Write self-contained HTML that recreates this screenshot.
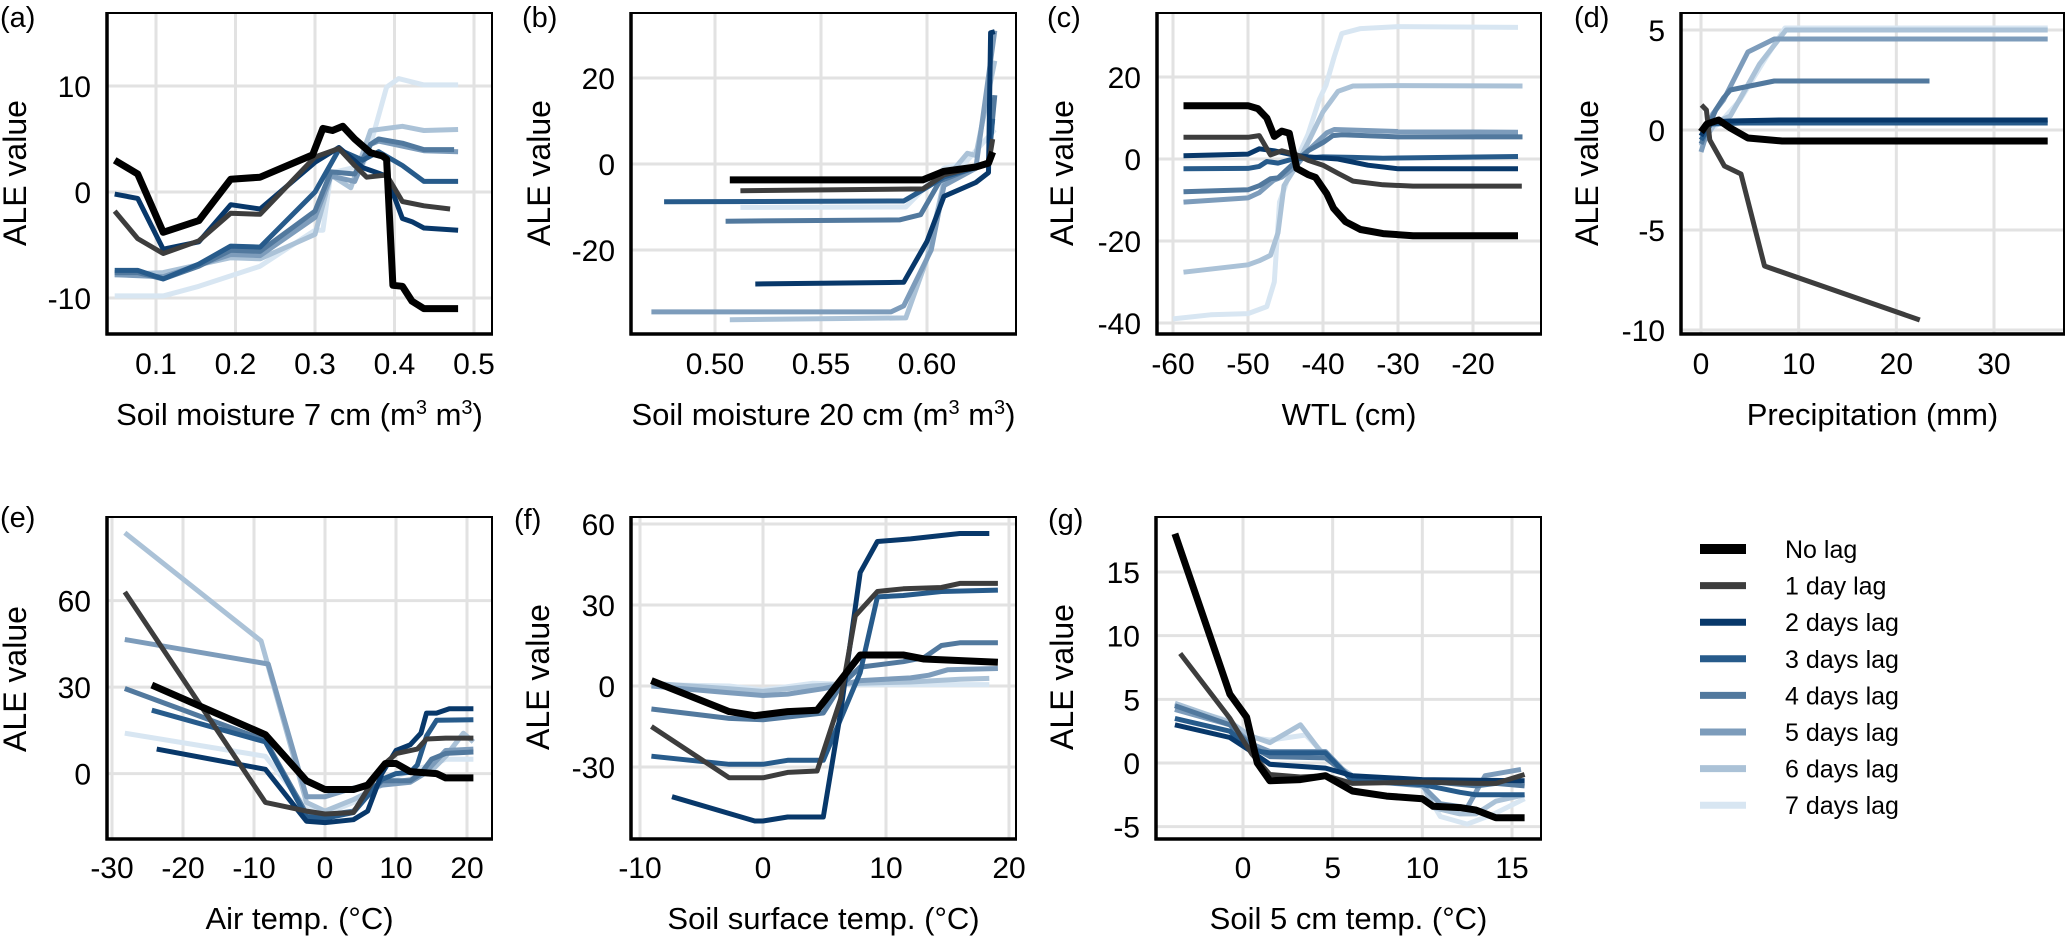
<!DOCTYPE html>
<html><head><meta charset="utf-8"><style>
html,body{margin:0;padding:0;background:#fff;}
svg{display:block;font-family:"Liberation Sans",Arial,sans-serif;}
</style></head><body>
<svg id="chart" width="2067" height="936" viewBox="0 0 2067 936" xmlns="http://www.w3.org/2000/svg"></svg>
<script>
const lagNames = ["No lag","1 day lag","2 days lag","3 days lag","4 days lag","5 days lag","6 days lag","7 days lag"];
const lagColors = ["#000000","#3d3d3d","#08386a","#275b8b","#52799e","#7d9cbb","#abc2d7","#d8e6f2"];

const seriesA = [
 [[0.048,3.0],[0.077,1.7],[0.109,-3.8],[0.154,-2.7],[0.194,1.2],[0.231,1.4],[0.297,3.5],[0.31,6],[0.322,5.8],[0.335,6.2],[0.35,5.0],[0.37,3.7],[0.385,3.4],[0.39,3.1],[0.398,-8.8],[0.41,-8.9],[0.422,-10.3],[0.437,-11.0],[0.48,-11.0]],
 [[0.048,-1.8],[0.077,-4.4],[0.109,-5.8],[0.154,-4.6],[0.194,-2.0],[0.231,-2.1],[0.3,3.3],[0.33,4.1],[0.35,2.5],[0.365,1.4],[0.39,1.6],[0.41,-0.9],[0.437,-1.3],[0.47,-1.6]],
 [[0.048,-0.2],[0.077,-0.6],[0.109,-5.4],[0.154,-4.7],[0.194,-1.2],[0.231,-1.6],[0.3,2.8],[0.33,4.2],[0.36,2.3],[0.39,1.5],[0.41,-2.5],[0.422,-2.8],[0.437,-3.4],[0.48,-3.6]],
 [[0.048,-7.4],[0.077,-7.4],[0.109,-8.2],[0.154,-6.8],[0.194,-5.1],[0.231,-5.2],[0.3,0],[0.33,4],[0.36,3.0],[0.38,3.8],[0.41,2.5],[0.437,1.0],[0.48,1.0]],
 [[0.048,-7.6],[0.077,-7.6],[0.109,-8.2],[0.154,-7.0],[0.194,-5.5],[0.231,-5.6],[0.3,-1.8],[0.32,1.9],[0.35,1.7],[0.37,4.5],[0.38,5.0],[0.41,4.6],[0.437,4.0],[0.475,4.0]],
 [[0.048,-7.8],[0.109,-8.0],[0.194,-5.9],[0.231,-6.0],[0.3,-2.4],[0.32,1.5],[0.35,1.0],[0.37,4.5],[0.38,4.8],[0.437,3.9],[0.48,3.8]],
 [[0.048,-7.8],[0.109,-7.6],[0.194,-6.2],[0.231,-6.3],[0.3,-4.0],[0.32,1.6],[0.345,0.4],[0.37,5.8],[0.41,6.2],[0.437,5.8],[0.48,5.9]],
 [[0.048,-9.8],[0.109,-9.8],[0.154,-8.9],[0.231,-7.0],[0.3,-3.6],[0.31,-3.6],[0.32,1.8],[0.36,2.5],[0.37,4.5],[0.39,9.9],[0.405,10.7],[0.437,10.1],[0.48,10.1]]
];
const seriesB = [
 [[0.507,-3.7],[0.598,-3.7],[0.608,-1.7],[0.623,-0.7],[0.629,0.2],[0.631,2.8]],
 [[0.512,-6.2],[0.598,-5.8],[0.608,-2.5],[0.629,0],[0.631,5.8]],
 [[0.519,-27.9],[0.589,-27.5],[0.6,-18],[0.608,-7.5],[0.623,-4.3],[0.629,-2],[0.63,30.5],[0.632,30.8]],
 [[0.476,-8.8],[0.589,-8.6],[0.598,-6],[0.608,-3],[0.629,0],[0.631,10.5]],
 [[0.505,-13.3],[0.587,-13],[0.597,-11.8],[0.606,-4],[0.629,0.5],[0.632,16]],
 [[0.47,-34.4],[0.583,-34.4],[0.589,-33],[0.602,-20],[0.608,-5],[0.623,-1],[0.632,31]],
 [[0.507,-36.2],[0.59,-35.8],[0.6,-22],[0.608,-4],[0.619,2.5],[0.623,2],[0.632,24]],
 [[0.512,-10.1],[0.59,-10],[0.6,-5],[0.608,-1],[0.618,0.3],[0.632,8]]
];
const seriesC = [
 [[-58.6,13],[-50,13],[-48.7,12.3],[-47.5,10],[-46.5,5.5],[-45.5,6.8],[-44.5,6.3],[-43.5,-2.3],[-42,-3.8],[-41,-4.5],[-39.5,-8.5],[-38.6,-12],[-37,-15.3],[-35,-17.2],[-32,-18.2],[-28,-18.7],[-14,-18.7]],
 [[-58.6,5.3],[-50,5.3],[-48.5,5.7],[-47,1],[-45.5,2],[-43.5,1],[-42,-0.3],[-40,-1.5],[-38,-3.5],[-36,-5.4],[-32,-6.3],[-28,-6.6],[-13.5,-6.6]],
 [[-58.6,0.8],[-50,1.2],[-48.5,2.5],[-46.5,2],[-44,1],[-42,0.5],[-38,0],[-34,-1.5],[-30,-2.4],[-14,-2.4]],
 [[-58.6,-2.4],[-50,-2.3],[-48.5,-1.8],[-47.5,-0.6],[-46,-1],[-44,0],[-40,0.5],[-36,0.4],[-32,0.2],[-14,0.6]],
 [[-58.6,-8],[-50,-7.5],[-48.5,-6.5],[-47,-4.8],[-46,-4.6],[-44,-1.2],[-42,2],[-40,4],[-38.7,5.7],[-37.5,5.9],[-30,5.4],[-13.4,5.4]],
 [[-58.6,-10.5],[-50,-9.5],[-48.5,-8.2],[-46.6,-5.2],[-45.5,-4.4],[-43.5,-1.5],[-42,2],[-39.5,6.4],[-38.5,7.2],[-30,6.7],[-14,6.5]],
 [[-58.6,-27.6],[-50,-25.8],[-48.5,-24.8],[-47,-23.5],[-46,-18],[-45.2,-6.5],[-44,-3],[-42,4],[-40,11.5],[-39,14],[-38,16.5],[-36,17.8],[-30,17.9],[-13.4,17.8]],
 [[-60,-39],[-55,-38],[-50,-37.7],[-47.5,-36],[-46.5,-30],[-45.8,-10.5],[-45,-6.5],[-44.5,-3],[-43,2],[-42,6],[-40.5,14.5],[-39.6,18],[-38.5,25],[-37.5,30.6],[-35,31.8],[-30,32.3],[-14,32.1]]
];
const seriesD = [
 [[0,-0.1],[0.6,0.3],[1.8,0.5],[3,0.1],[4.8,-0.4],[8.3,-0.55],[35.5,-0.55]],
 [[0.05,1.25],[0.55,1],[0.9,-0.5],[2.4,-1.8],[4.1,-2.2],[6.5,-6.8],[22.4,-9.5]],
 [[0,-0.3],[0.8,0.4],[3,0.45],[8,0.5],[35.5,0.5]],
 [[0,-0.5],[1,0.3],[4,0.35],[35.5,0.35]],
 [[0,-0.7],[1.5,1.0],[2.3,1.6],[3,2],[7.5,2.45],[23.4,2.45]],
 [[0,-1.1],[1.2,0.8],[2.3,1.5],[4.8,3.9],[7.5,4.55],[35.5,4.55]],
 [[0,-0.8],[1.5,0.4],[3,0.7],[4.5,2],[6,3.3],[8.7,5],[35.5,5.0]],
 [[0,-0.4],[2,0.4],[4,1.5],[6.5,3.5],[8.6,5.1],[35.5,5.1]]
];
const seriesE = [
 [[-24.4,30.7],[-8.4,13.5],[-2.6,-2.5],[0,-5.5],[4,-5.5],[6,-4],[8.5,3.5],[10,3.5],[12,0.7],[15.7,0],[17,-1.5],[20.9,-1.5]],
 [[-28.2,63],[-8.4,-10],[-2.6,-13],[0,-14],[4,-13.5],[6,-5.5],[8.2,3],[10.1,7],[13,8.5],[14.3,12],[17,12.3],[20.9,12.3]],
 [[-23.7,8.5],[-8.4,1.5],[-2.6,-16.5],[0,-17],[4,-16],[6,-13],[8,0],[10,8],[12,10],[13.5,14],[14.3,21],[15.7,21],[17.5,22.5],[20.9,22.5]],
 [[-24.4,22],[-8.4,11],[-2.6,-15],[0,-15.5],[4,-13.5],[8,-2],[10,0],[12,0.5],[13,3],[14.3,13],[15.7,18.5],[20.9,18.7]],
 [[-28.2,29.5],[-8.4,11.5],[-2.6,-14],[0,-14.5],[4,-13],[8,-2.5],[12,-2.5],[13.5,0],[15,5],[17,7],[20.9,7.5]],
 [[-28.2,46.5],[-8,38],[-2.6,-8],[0,-8],[4,-5],[8,-4],[12,-3],[14,0],[17,8],[20.9,8.5]],
 [[-28.2,83.5],[-9,46],[-2.6,-10],[0,-13],[4,-9],[8,-4],[12,-2],[15,1],[17,6],[19.5,14],[20.9,11]],
 [[-28.2,14],[-8.4,6],[-2.6,-12],[0,-14],[4,-10],[8,-3],[12,1],[15,3],[17,5],[20.9,5]]
];
const seriesF = [
 [[-9.07,2],[-2.75,-9.5],[-0.67,-11],[2,-9.5],[4.4,-9],[7.9,11.5],[11.4,11.5],[13.1,10],[19.1,8.8]],
 [[-9.07,-15],[-2.75,-34],[0,-34],[2,-32],[4.4,-31.5],[6.3,-5],[7.5,26],[9.3,35],[11.4,36],[14.5,36.5],[16,38],[19.1,38]],
 [[-7.4,-41],[-0.67,-50],[0,-50],[2,-48.5],[4.9,-48.5],[6.3,-10],[7.9,42],[9.3,53.5],[12,54.5],[16,56.5],[18.4,56.5]],
 [[-9.07,-26],[-2.75,-29],[0,-29],[2,-27.5],[4.9,-27.5],[7.9,5],[9.3,33],[11.4,33.5],[14.5,35],[19.1,35.5]],
 [[-9.07,-8.5],[-2.75,-12],[0,-12.5],[2,-11.5],[4.9,-10],[6.3,0],[7.9,7],[11.4,9],[13.1,10.5],[14.5,15],[16,16],[19.1,16]],
 [[-9.07,0],[-2.75,-2.5],[0,-3.5],[2,-3],[4.9,-1],[7.9,2],[12,3],[13.5,4],[15,6],[19.1,6.5]],
 [[-9.07,1],[-2.75,-1],[0,-2],[4,0],[7.9,1],[12,1.5],[16,2.5],[18.4,2.8]],
 [[-9.07,0.5],[-2.75,0],[0,-1.5],[4,1],[8,0.5],[12,0.5],[16,0.5],[18.4,0.5]]
];
const seriesG = [
 [[-3.8,18],[-0.73,5.4],[0.2,3.6],[0.8,0],[1.5,-1.4],[3.2,-1.3],[4.6,-1],[6.1,-2.2],[8,-2.6],[10,-2.8],[10.6,-3.4],[12.1,-3.5],[13,-3.7],[14.1,-4.3],[15.7,-4.3]],
 [[-3.5,8.6],[-0.73,3.5],[0,1.8],[0.5,0.7],[1.5,-0.9],[3.2,-1.1],[4.6,-1],[6.1,-1.6],[10,-1.5],[13,-1.6],[14.1,-1.6],[15.7,-0.9]],
 [[-3.8,3],[-0.73,2],[0.47,0.9],[1.5,-0.1],[4.6,-0.4],[6.1,-1],[10,-1.3],[15.7,-1.4]],
 [[-3.8,3.5],[-0.73,2.5],[0.47,1],[1.5,0.8],[4.6,0.8],[6.1,-1.4],[10,-1.7],[12.1,-2.3],[13,-2.5],[15.7,-2.5]],
 [[-3.8,4.5],[-0.73,3],[0.47,1.3],[1.5,0.5],[4.6,0.4],[6.1,-1.2],[10,-1.4],[13,-1.8],[14.1,-1.6],[15.7,-1.8]],
 [[-3.8,4.2],[-0.73,3],[0.47,1.5],[1.5,0.9],[4.6,0.9],[6.1,-1.3],[10,-1.8],[11,-3.2],[12.5,-3.5],[13.5,-1],[15.5,-0.5]],
 [[-3.8,4.7],[-0.73,3.2],[0.47,2.1],[1.5,1.6],[3.2,3],[4.6,0.4],[6.1,-1],[10,-1.5],[10.6,-3.5],[12.1,-4],[13,-4],[14.1,-3],[15.7,-2.5]],
 [[-3.8,4.5],[-0.73,3.3],[0.47,2],[1.5,1.8],[3.5,2.2],[4.6,0.6],[6.1,-1.2],[10,-1.8],[11,-4.2],[12.5,-4.8],[14,-4],[15.7,-2.8]]
];
const xTicksA = [0.1,0.2,0.3,0.4,0.5], yTicksA = [-10,0,10];
const xTicksB = [0.50,0.55,0.60], yTicksB = [-20,0,20];
const xTicksC = [-60,-50,-40,-30,-20], yTicksC = [-40,-20,0,20];
const xTicksD = [0,10,20,30], yTicksD = [-10,-5,0,5];
const xTicksE = [-30,-20,-10,0,10,20], yTicksE = [0,30,60];
const xTicksF = [-10,0,10,20], yTicksF = [-30,0,30,60];
const xTicksG = [0,5,10,15], yTicksG = [-5,0,5,10,15];

const NS = "http://www.w3.org/2000/svg";
const svg = document.getElementById("chart");
function mk(tag, attrs, parent){ const e=document.createElementNS(NS,tag); for(const k in attrs) e.setAttribute(k,attrs[k]); (parent||svg).appendChild(e); return e; }

const panels = [
 {id:"a", letter:"(a)", lx:0, ly:27, f:[107,13,492,334], xm:[0.1,156,0.5,474], ym:[0,192,10,86], xt:xTicksA, yt:yTicksA, dec:1, s:seriesA, title:"Soil moisture 7 cm (m|3| m|3|)", ylx:15, yly:173, tickY:374, titleY:425},
 {id:"b", letter:"(b)", lx:522, ly:27, f:[631,13,1016,334], xm:[0.5,715,0.6,927], ym:[0,164,20,78], xt:xTicksB, yt:yTicksB, dec:2, s:seriesB, title:"Soil moisture 20 cm (m|3| m|3|)", ylx:539, yly:173, tickY:374, titleY:425},
 {id:"c", letter:"(c)", lx:1047, ly:27, f:[1157,13,1541,334], xm:[-60,1173,-20,1473], ym:[0,159,20,77], xt:xTicksC, yt:yTicksC, dec:0, s:seriesC, title:"WTL (cm)", ylx:1062, yly:173, tickY:374, titleY:425},
 {id:"d", letter:"(d)", lx:1574, ly:27, f:[1681,13,2064,334], xm:[0,1701,30,1994], ym:[0,130,5,30], xt:xTicksD, yt:yTicksD, dec:0, s:seriesD, title:"Precipitation (mm)", ylx:1587, yly:173, tickY:374, titleY:425},
 {id:"e", letter:"(e)", lx:0, ly:527, f:[107,517,492,839], xm:[0,325,20,467], ym:[0,773.6,60,600.6], xt:xTicksE, yt:yTicksE, dec:0, s:seriesE, title:"Air temp. (°C)", ylx:15, yly:679, tickY:878, titleY:929},
 {id:"f", letter:"(f)", lx:514, ly:529, f:[631,517,1016,839], xm:[0,763,10,886], ym:[0,686,30,605], xt:xTicksF, yt:yTicksF, dec:0, s:seriesF, title:"Soil surface temp. (°C)", ylx:538, yly:677, tickY:878, titleY:929},
 {id:"g", letter:"(g)", lx:1048, ly:529, f:[1156,517,1541,839], xm:[0,1243,15,1512], ym:[0,763,15,572], xt:xTicksG, yt:yTicksG, dec:0, s:seriesG, title:"Soil 5 cm temp. (°C)", ylx:1062, yly:677, tickY:878, titleY:929}
];

panels.forEach(p=>{
  const g = mk("g",{});
  
  
  const [x0,y0,x1,y1]=p.f;
  const sx = v => p.xm[1] + (v-p.xm[0])*(p.xm[3]-p.xm[1])/(p.xm[2]-p.xm[0]);
  const sy = v => p.ym[1] + (v-p.ym[0])*(p.ym[3]-p.ym[1])/(p.ym[2]-p.ym[0]);
  // gridlines
  p.xt.forEach(t=>{ const l=mk("line",{x1:sx(t),x2:sx(t),y1:y0,y2:y1,stroke:"#e2e2e2","stroke-width":3},g);
      });
  p.yt.forEach(t=>{ const yy=sy(t); if(yy<y0||yy>y1) return; const l=mk("line",{x1:x0,x2:x1,y1:yy,y2:yy,stroke:"#e2e2e2","stroke-width":3},g);
      });
  // clip
  const cp = mk("clipPath",{id:"clip-"+p.id},g); mk("rect",{x:x0,y:y0,width:x1-x0,height:y1-y0},cp);
  const lg = mk("g",{"clip-path":"url(#clip-"+p.id+")"},g);
  for(let i=7;i>=0;i--){
    const pts = p.s[i].map(d=>sx(d[0]).toFixed(1)+","+sy(d[1]).toFixed(1)).join(" ");
    const pl = mk("polyline",{points:pts,fill:"none",stroke:lagColors[i],"stroke-width":i===0?7:5,"stroke-linejoin":"round","stroke-linecap":"butt"},lg);
    
    
  }
  // frame
  mk("rect",{x:x0,y:y0,width:x1-x0,height:y1-y0,fill:"none",stroke:"#000","stroke-width":2},g);
  mk("line",{x1:x0,x2:x0,y1:y0-1,y2:y1+1.5,stroke:"#000","stroke-width":3.5},g);
  mk("line",{x1:x0-1.5,x2:x1+1,y1:y1,y2:y1,stroke:"#000","stroke-width":3.5},g);
  // tick labels
  p.xt.forEach(t=>{ const tx=mk("text",{x:sx(t),y:p.tickY,"text-anchor":"middle","font-size":30,fill:"#000"},g); tx.textContent=t.toFixed(p.dec);
      });
  p.yt.forEach(t=>{ const tx=mk("text",{x:x0-16,y:sy(t)+11,"text-anchor":"end","font-size":30,fill:"#000"},g); tx.textContent=String(t);
      });
  // x title
  const tt = mk("text",{x:(x0+x1)/2,y:p.titleY,"text-anchor":"middle","font-size":31,fill:"#000"},g);
   
  p.title.split("|").forEach((part,k)=>{ const ts=mk("tspan",{},tt); ts.textContent=part;
    if(k%2===1){ ts.setAttribute("baseline-shift","super"); ts.setAttribute("font-size","20"); } });
  // y title
  const yt = mk("text",{x:0,y:0,"text-anchor":"middle","font-size":32,fill:"#000",transform:`translate(${p.ylx+11},${p.yly}) rotate(-90)`},g);
  yt.textContent="ALE value";
   
  // panel letter
  const pl = mk("text",{x:p.lx,y:p.ly,"font-size":29,fill:"#000"},g);
  pl.textContent=p.letter;
   
});

// legend
const leg = mk("g",{});


lagNames.forEach((n,i)=>{
  const y = 549 + i*36.6;
  const e = mk("g",{},leg);
  
  
  mk("line",{x1:1700,x2:1746,y1:y,y2:y,stroke:lagColors[i],"stroke-width":i===0?10:7},e);
  const t = mk("text",{x:1785,y:y+9,"font-size":25,fill:"#000"},e);
  t.textContent = n;
});
</script>
</body></html>
